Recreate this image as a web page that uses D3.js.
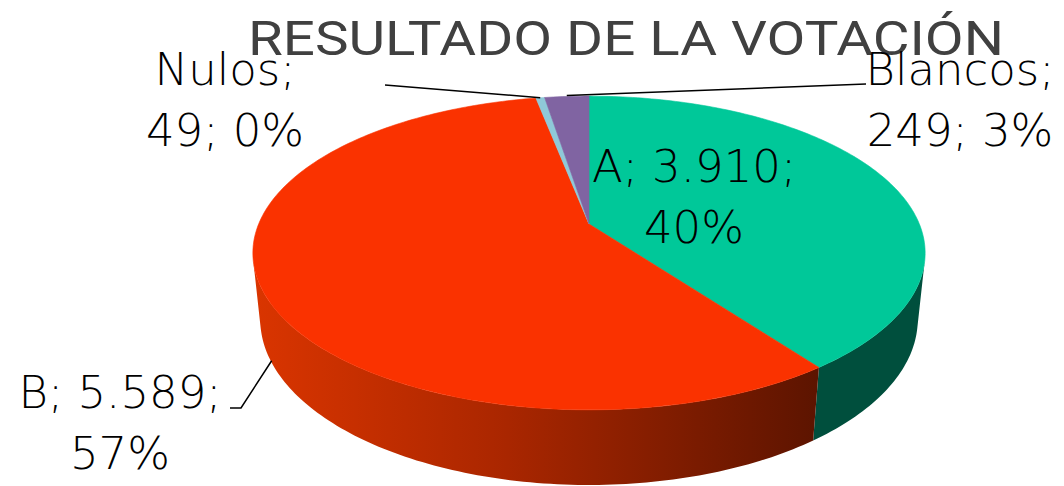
<!DOCTYPE html>
<html>
<head>
<meta charset="utf-8">
<script src="https://cdn.jsdelivr.net/npm/d3@7"></script>
<style>
  body { margin: 0; background: #fff; }
  svg { display: block; }
</style>
</head>
<body>
<div id="chart"></div>
<script>
// data
var categories  = ["A", "B", "Nulos", "Blancos"];
var votes       = [3910, 5589, 49, 249];
var voteLabels  = ["3.910", "5.589", "49", "249"];
var pctLabels   = ["40%", "57%", "0%", "3%"];
var topColors   = ["#00C899", "#FA3200", "#8FC9D8", "#8064A2"];
var sideColors  = ["#004F3D", "url(#sideB)", "#4E7E8A", "#4A3866"];
var titleText   = "RESULTADO DE LA VOTACIÓN";

var W = 1064, H = 486;

var svg = d3.select("#chart").append("svg")
    .attr("width", W)
    .attr("height", H);

// perspective camera for the 3d pie (radius 1 disk)
var CX = 589, CY = 224;       // where the pie centre lands
var tilt = 27.3 * Math.PI / 180;
var sinA = Math.sin(tilt), cosA = Math.cos(tilt);
var D = 4.81, F = 1589, thick = 0.228;

function proj(x, yw, z) {
    var up = yw * cosA - z * sinA;
    var depth = D - (z * cosA + yw * sinA);
    return [CX + F * x / depth, CY - F * up / depth];
}
function rim(theta, yw) {
    return proj(Math.sin(theta), yw, -Math.cos(theta));
}

var pie = d3.pie().sort(null).value(function(d){ return d; });
var arcs = pie(votes);

// side is visible where the outward normal faces the camera
var visLo = Math.acos(-1 / (D * cosA));
var visHi = 2 * Math.PI - visLo;

function arcPoints(a0, a1, yw) {
    var n = Math.max(2, Math.ceil(Math.abs(a1 - a0) / (Math.PI / 180)));
    return d3.range(n + 1).map(function(i){ return rim(a0 + (a1 - a0) * i / n, yw); });
}

var line = d3.line();

// gradient for the big red side
var defs = svg.append("defs");
var bStart = Math.max(arcs[1].startAngle, visLo), bEnd = Math.min(arcs[1].endAngle, visHi);
var gx0 = rim(bEnd, 0)[0], gx1 = rim(bStart, 0)[0];
var grad = defs.append("linearGradient")
    .attr("id", "sideB")
    .attr("gradientUnits", "userSpaceOnUse")
    .attr("x1", gx0).attr("x2", gx1).attr("y1", 0).attr("y2", 0);
grad.append("stop").attr("offset", 0).attr("stop-color", "#DA3500");
grad.append("stop").attr("offset", 0.45).attr("stop-color", "#A92600");
grad.append("stop").attr("offset", 1).attr("stop-color", "#5C1400");

// sides first
var sides = svg.append("g").attr("class", "sides");
arcs.forEach(function(a, i){
    var s = Math.max(a.startAngle, visLo), e = Math.min(a.endAngle, visHi);
    if (e <= s) return;
    var pts = arcPoints(s, e, 0).concat(arcPoints(e, s, -thick));
    sides.append("path")
        .attr("d", line(pts) + "Z")
        .attr("fill", sideColors[i]);
});

// top faces
var tops = svg.append("g").attr("class", "tops");
arcs.forEach(function(a, i){
    var pts = [proj(0, 0, 0)].concat(arcPoints(a.startAngle, a.endAngle, 0));
    tops.append("path")
        .attr("d", line(pts) + "Z")
        .attr("fill", topColors[i])
        .attr("stroke", topColors[i])
        .attr("stroke-width", 0.6);
});

// title
svg.append("text")
    .attr("x", 626)
    .attr("y", 55)
    .attr("text-anchor", "middle")
    .attr("textLength", 756)
    .attr("lengthAdjust", "spacingAndGlyphs")
    .style("font-family", "Roboto, 'Noto Sans', sans-serif")
    .style("font-size", "48px")
    .style("fill", "#404040")
    .text(titleText);

// data labels: [x, first baseline]
var labelPos = [[694, 182], [120, 408], [225, 85], [960, 85]];
var lineGap = 61;

var labels = svg.append("g")
    .style("font-family", "'DejaVu Sans', sans-serif")
    .style("font-weight", 200)
    .style("font-size", "45px")
    .style("fill", "#000");

categories.forEach(function(c, i){
    var t = labels.append("text")
        .attr("text-anchor", "middle");
    var first, second;
    if (i === 0 || i === 1) {
        first = c + "; " + voteLabels[i] + ";";
        second = pctLabels[i];
    } else {
        first = c + ";";
        second = voteLabels[i] + "; " + pctLabels[i];
    }
    t.append("tspan").attr("x", labelPos[i][0]).attr("y", labelPos[i][1]).text(first);
    t.append("tspan").attr("x", labelPos[i][0]).attr("y", labelPos[i][1] + lineGap).text(second);
});

// leader lines
var leaders = svg.append("g")
    .attr("fill", "none")
    .attr("stroke", "#000")
    .attr("stroke-width", 1.5);

function mid(a) { return (a.startAngle + a.endAngle) / 2; }

// B: from label to bottom rim of the side
var bAnchor = rim(mid(arcs[1]), -thick);
leaders.append("path").attr("d", line([[230, 408], [241, 408], [bAnchor[0] + 2, bAnchor[1] + 2]]));
// Nulos
var nAnchor = rim(mid(arcs[2]), 0);
leaders.append("path").attr("d", line([[385, 85], [nAnchor[0], nAnchor[1]]]));
// Blancos
var kAnchor = rim(mid(arcs[3]), 0);
leaders.append("path").attr("d", line([[866, 84], [kAnchor[0], kAnchor[1] - 1]]));
</script>
</body>
</html>
